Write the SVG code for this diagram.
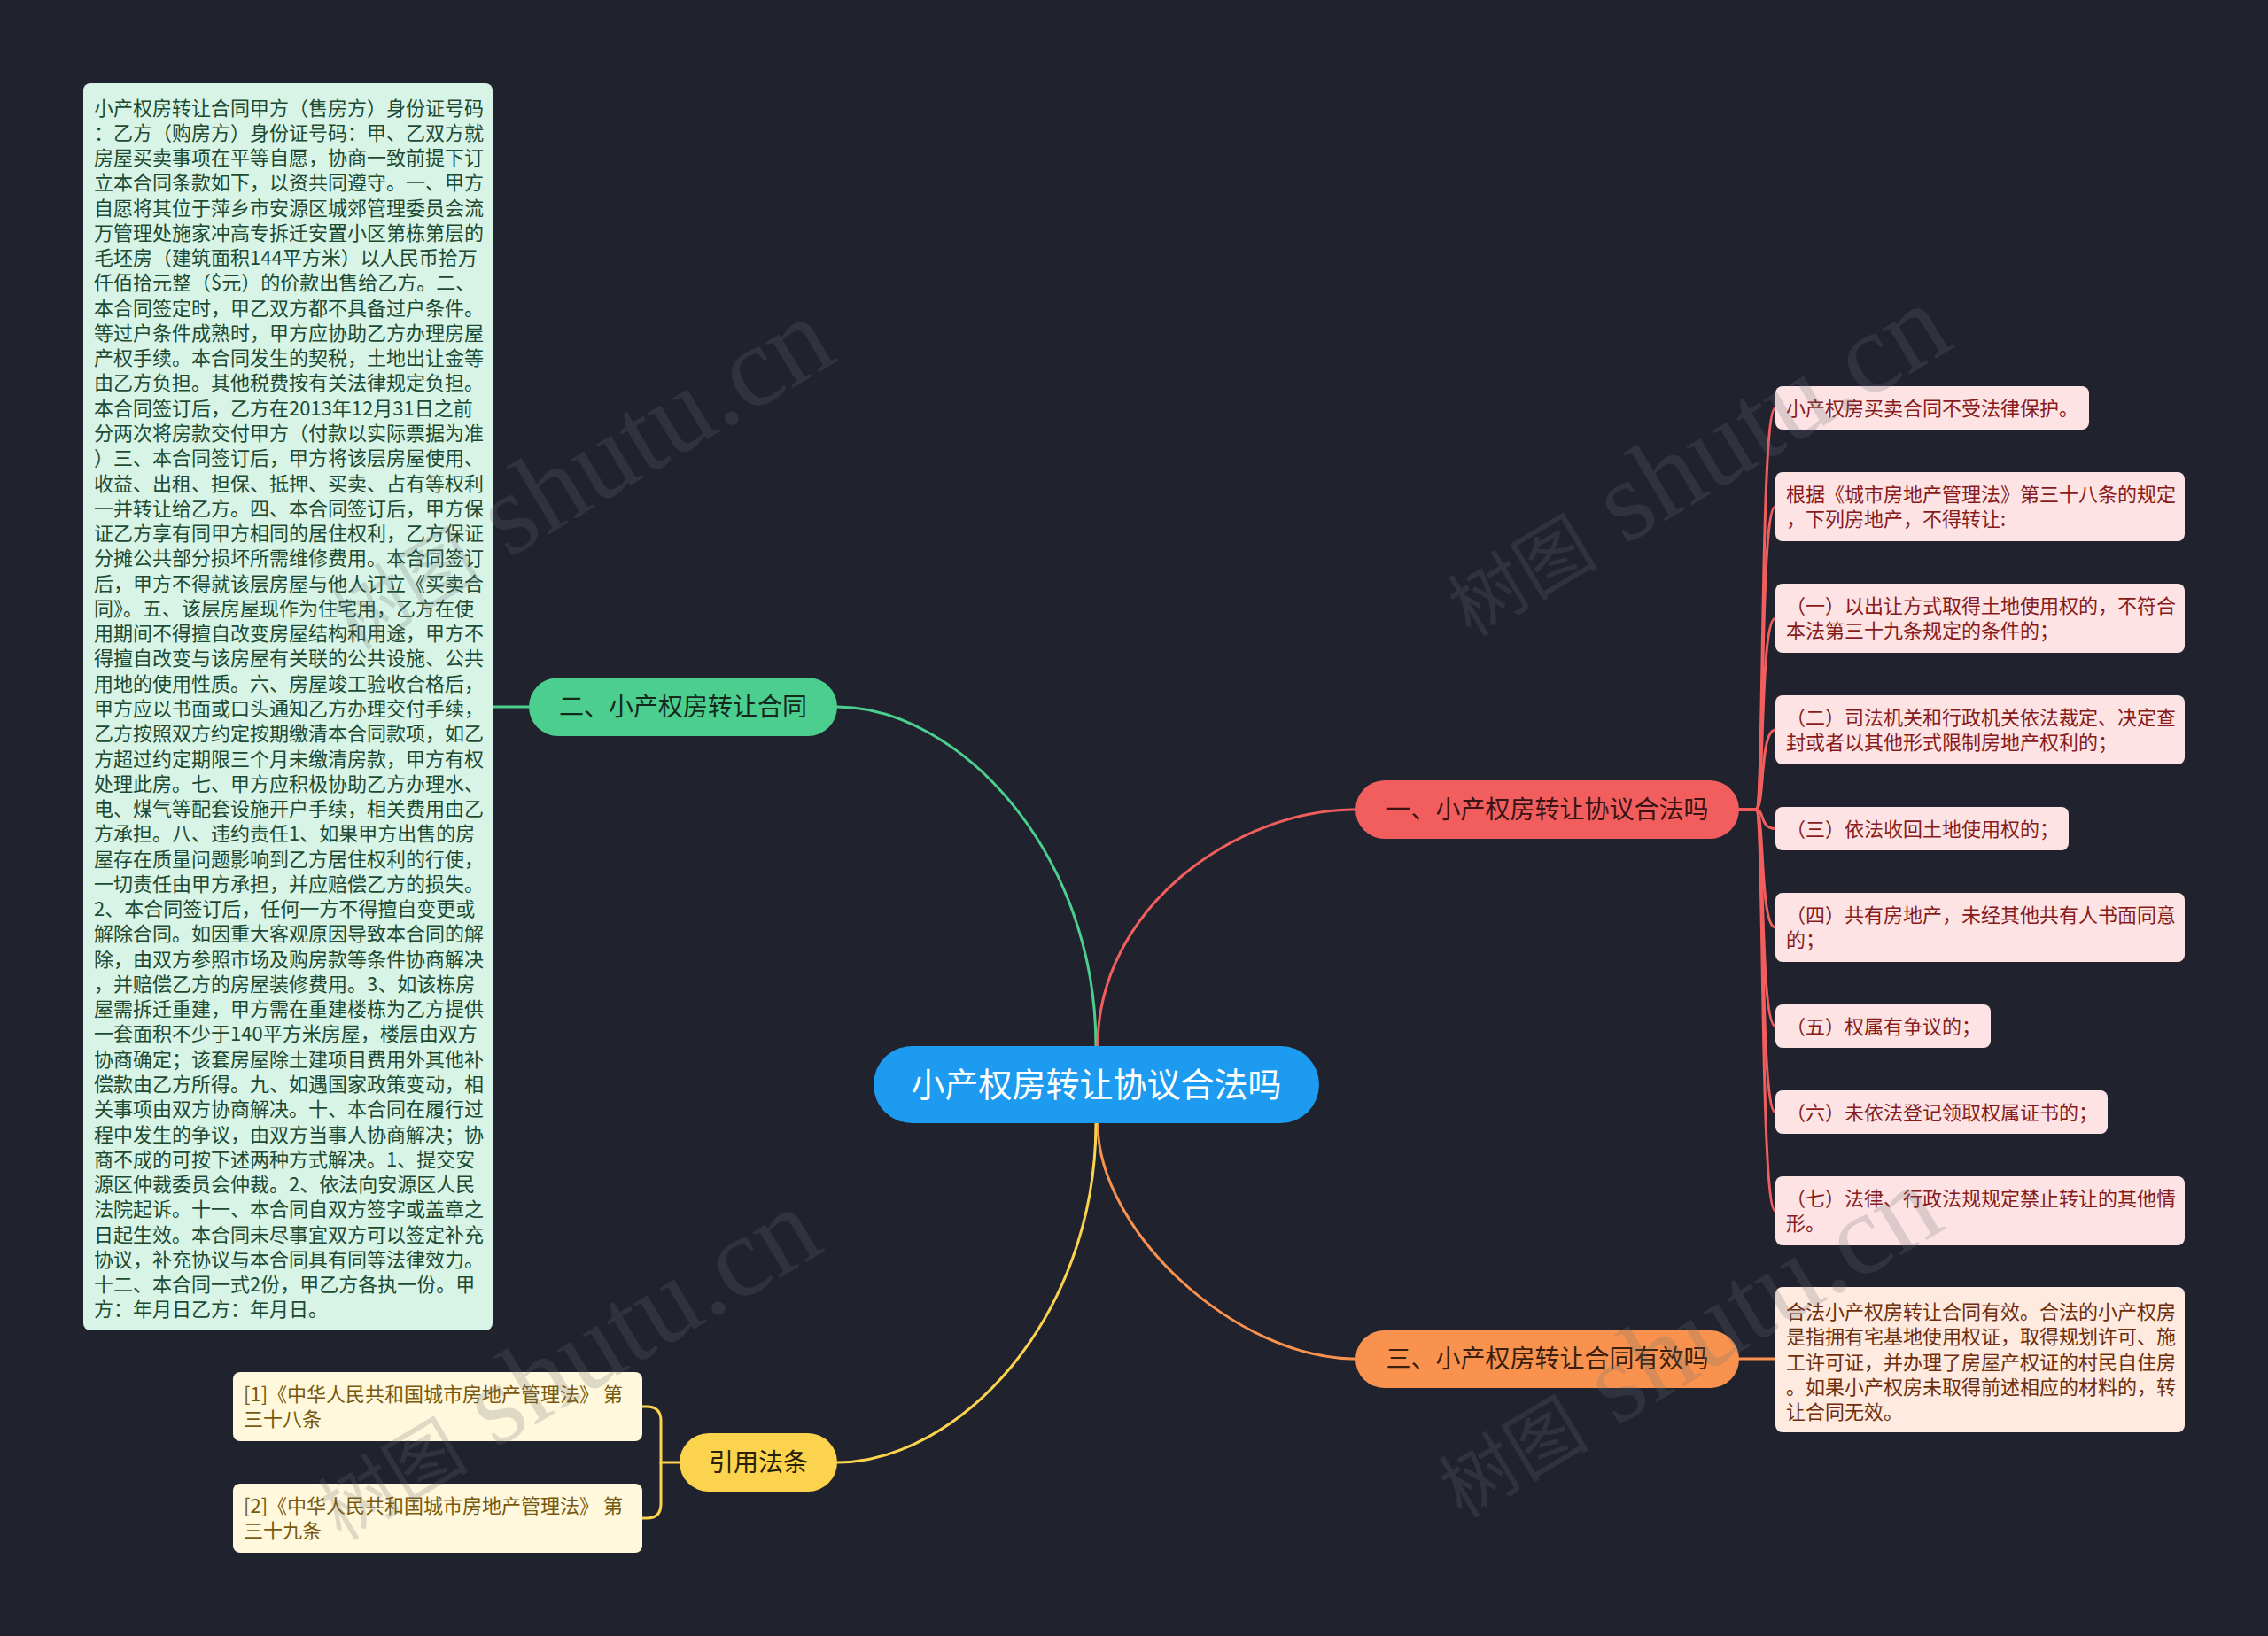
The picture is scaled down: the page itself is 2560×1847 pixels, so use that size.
<svg xmlns="http://www.w3.org/2000/svg" width="2560" height="1847" viewBox="0 0 2560 1847">
<style>
text { font-family: 'Noto Sans CJK SC', 'Noto Sans', sans-serif; }
.t22 { font-size: 22px; }
.main { font-size: 28px; text-anchor: middle; }
.con { fill: none; stroke-width: 3; stroke-linecap: round; }
.cg { stroke: #4ccf8e; } .cr { stroke: #f25e5e; } .co { stroke: #f8924e; } .cy { stroke: #fcd34d; }
.pink rect { fill: #fde3e3; } .pink text { fill: #871b1b; }
.wm { font-family: 'Liberation Serif', 'Noto Sans CJK SC', serif; font-size: 130px; fill: #6b6f78; opacity: 0.22; }
.wm .cjk { font-family: 'Noto Sans CJK SC', sans-serif; font-size: 85px; }
</style>
<rect x="0" y="0" width="2560" height="1847" fill="#20232e"/>

<g id="connectors">
  <path class="con cg" d="M945,798 C1080,798 1237,960 1237,1181"/>
  <path class="con cr" d="M1239,1181 C1239,1025 1395,914 1530,914"/>
  <path class="con co" d="M1239,1268 C1239,1390 1395,1534 1530,1534"/>
  <path class="con cy" d="M1237,1268 C1237,1490 1080,1651 945,1651"/>
  <path class="con cg" d="M556,798 H598"/>
  <path class="con cr" d="M1963,914 H1982 C1992,914 1986,460.5 2004,460.5"/>
  <path class="con cr" d="M1963,914 H1982 C1992,914 1986,572 2004,572"/>
  <path class="con cr" d="M1963,914 H1982 C1992,914 1986,698 2004,698"/>
  <path class="con cr" d="M1963,914 H1982 C1992,914 1986,824 2004,824"/>
  <path class="con cr" d="M1963,914 H1982 C1992,914 1986,935.5 2004,935.5"/>
  <path class="con cr" d="M1963,914 H1982 C1992,914 1986,1047 2004,1047"/>
  <path class="con cr" d="M1963,914 H1982 C1992,914 1986,1158.5 2004,1158.5"/>
  <path class="con cr" d="M1963,914 H1982 C1992,914 1986,1255.5 2004,1255.5"/>
  <path class="con cr" d="M1963,914 H1982 C1992,914 1986,1367 2004,1367"/>
  <path class="con co" d="M1961,1534 H2004"/>
  <path class="con cy" d="M767,1651 H746 V1604 Q746,1588 730,1588 H725"/>
  <path class="con cy" d="M746,1651 V1698 Q746,1714 730,1714 H725"/>
</g>

<g id="center">
  <rect x="986" y="1181" width="503" height="87" rx="43.5" fill="#1c9bf0"/>
  <text x="1237.5" y="1238" font-size="38" text-anchor="middle" fill="#ffffff">小产权房转让协议合法吗</text>
</g>

<g id="b1">
  <rect x="1530" y="881" width="433" height="66" rx="33" fill="#f25e5e"/>
  <text class="main" x="1746.5" y="924" fill="#3a1414">一、小产权房转让协议合法吗</text>
</g>
<g id="b2">
  <rect x="597" y="765" width="348" height="66" rx="33" fill="#4ccf8e"/>
  <text class="main" x="771" y="808" fill="#14281c">二、小产权房转让合同</text>
</g>
<g id="b3">
  <rect x="1530" y="1502" width="433" height="65" rx="32.5" fill="#f8924e"/>
  <text class="main" x="1746.5" y="1544" fill="#3a1e0e">三、小产权房转让合同有效吗</text>
</g>
<g id="b4">
  <rect x="767" y="1618" width="178" height="66" rx="33" fill="#fcd34d"/>
  <text class="main" x="856" y="1661" fill="#2a2208">引用法条</text>
</g>

<g id="contract">
  <rect x="94" y="94" width="462" height="1408" rx="8" fill="#d7f4e6"/>
  <text class="t22" fill="#1d4a32" x="106" y="129.5">
    <tspan x="106" dy="0">小产权房转让合同甲方（售房方）身份证号码</tspan>
    <tspan x="106" dy="28.27">：乙方（购房方）身份证号码：甲、乙双方就</tspan>
    <tspan x="106" dy="28.27">房屋买卖事项在平等自愿，协商一致前提下订</tspan>
    <tspan x="106" dy="28.27">立本合同条款如下，以资共同遵守。一、甲方</tspan>
    <tspan x="106" dy="28.27">自愿将其位于萍乡市安源区城郊管理委员会流</tspan>
    <tspan x="106" dy="28.27">万管理处施家冲高专拆迁安置小区第栋第层的</tspan>
    <tspan x="106" dy="28.27">毛坯房（建筑面积144平方米）以人民币拾万</tspan>
    <tspan x="106" dy="28.27">仟佰拾元整（$元）的价款出售给乙方。二、</tspan>
    <tspan x="106" dy="28.27">本合同签定时，甲乙双方都不具备过户条件。</tspan>
    <tspan x="106" dy="28.27">等过户条件成熟时，甲方应协助乙方办理房屋</tspan>
    <tspan x="106" dy="28.27">产权手续。本合同发生的契税，土地出让金等</tspan>
    <tspan x="106" dy="28.27">由乙方负担。其他税费按有关法律规定负担。</tspan>
    <tspan x="106" dy="28.27">本合同签订后，乙方在2013年12月31日之前</tspan>
    <tspan x="106" dy="28.27">分两次将房款交付甲方（付款以实际票据为准</tspan>
    <tspan x="106" dy="28.27">）三、本合同签订后，甲方将该层房屋使用、</tspan>
    <tspan x="106" dy="28.27">收益、出租、担保、抵押、买卖、占有等权利</tspan>
    <tspan x="106" dy="28.27">一并转让给乙方。四、本合同签订后，甲方保</tspan>
    <tspan x="106" dy="28.27">证乙方享有同甲方相同的居住权利，乙方保证</tspan>
    <tspan x="106" dy="28.27">分摊公共部分损坏所需维修费用。本合同签订</tspan>
    <tspan x="106" dy="28.27">后，甲方不得就该层房屋与他人订立《买卖合</tspan>
    <tspan x="106" dy="28.27">同》。五、该层房屋现作为住宅用，乙方在使</tspan>
    <tspan x="106" dy="28.27">用期间不得擅自改变房屋结构和用途，甲方不</tspan>
    <tspan x="106" dy="28.27">得擅自改变与该房屋有关联的公共设施、公共</tspan>
    <tspan x="106" dy="28.27">用地的使用性质。六、房屋竣工验收合格后，</tspan>
    <tspan x="106" dy="28.27">甲方应以书面或口头通知乙方办理交付手续，</tspan>
    <tspan x="106" dy="28.27">乙方按照双方约定按期缴清本合同款项，如乙</tspan>
    <tspan x="106" dy="28.27">方超过约定期限三个月未缴清房款，甲方有权</tspan>
    <tspan x="106" dy="28.27">处理此房。七、甲方应积极协助乙方办理水、</tspan>
    <tspan x="106" dy="28.27">电、煤气等配套设施开户手续，相关费用由乙</tspan>
    <tspan x="106" dy="28.27">方承担。八、违约责任1、如果甲方出售的房</tspan>
    <tspan x="106" dy="28.27">屋存在质量问题影响到乙方居住权利的行使，</tspan>
    <tspan x="106" dy="28.27">一切责任由甲方承担，并应赔偿乙方的损失。</tspan>
    <tspan x="106" dy="28.27">2、本合同签订后，任何一方不得擅自变更或</tspan>
    <tspan x="106" dy="28.27">解除合同。如因重大客观原因导致本合同的解</tspan>
    <tspan x="106" dy="28.27">除，由双方参照市场及购房款等条件协商解决</tspan>
    <tspan x="106" dy="28.27">，并赔偿乙方的房屋装修费用。3、如该栋房</tspan>
    <tspan x="106" dy="28.27">屋需拆迁重建，甲方需在重建楼栋为乙方提供</tspan>
    <tspan x="106" dy="28.27">一套面积不少于140平方米房屋，楼层由双方</tspan>
    <tspan x="106" dy="28.27">协商确定；该套房屋除土建项目费用外其他补</tspan>
    <tspan x="106" dy="28.27">偿款由乙方所得。九、如遇国家政策变动，相</tspan>
    <tspan x="106" dy="28.27">关事项由双方协商解决。十、本合同在履行过</tspan>
    <tspan x="106" dy="28.27">程中发生的争议，由双方当事人协商解决；协</tspan>
    <tspan x="106" dy="28.27">商不成的可按下述两种方式解决。1、提交安</tspan>
    <tspan x="106" dy="28.27">源区仲裁委员会仲裁。2、依法向安源区人民</tspan>
    <tspan x="106" dy="28.27">法院起诉。十一、本合同自双方签字或盖章之</tspan>
    <tspan x="106" dy="28.27">日起生效。本合同未尽事宜双方可以签定补充</tspan>
    <tspan x="106" dy="28.27">协议，补充协议与本合同具有同等法律效力。</tspan>
    <tspan x="106" dy="28.27">十二、本合同一式2份，甲乙方各执一份。甲</tspan>
    <tspan x="106" dy="28.27">方：年月日乙方：年月日。</tspan>
  </text>
</g>

<g id="n1" class="pink">
  <rect x="2004" y="436" width="354" height="49" rx="8"/>
  <text class="t22" x="2016" y="469">小产权房买卖合同不受法律保护。</text>
</g>
<g id="n2" class="pink">
  <rect x="2004" y="533" width="462" height="78" rx="8"/>
  <text class="t22" x="2016" y="566">根据《城市房地产管理法》第三十八条的规定<tspan x="2016" dy="28.27">，下列房地产，不得转让:</tspan></text>
</g>
<g id="n3" class="pink">
  <rect x="2004" y="659" width="462" height="78" rx="8"/>
  <text class="t22" x="2016" y="692">（一）以出让方式取得土地使用权的，不符合<tspan x="2016" dy="28.27">本法第三十九条规定的条件的；</tspan></text>
</g>
<g id="n4" class="pink">
  <rect x="2004" y="785" width="462" height="78" rx="8"/>
  <text class="t22" x="2016" y="818">（二）司法机关和行政机关依法裁定、决定查<tspan x="2016" dy="28.27">封或者以其他形式限制房地产权利的；</tspan></text>
</g>
<g id="n5" class="pink">
  <rect x="2004" y="911" width="331" height="49" rx="8"/>
  <text class="t22" x="2016" y="944">（三）依法收回土地使用权的；</text>
</g>
<g id="n6" class="pink">
  <rect x="2004" y="1008" width="462" height="78" rx="8"/>
  <text class="t22" x="2016" y="1041">（四）共有房地产，未经其他共有人书面同意<tspan x="2016" dy="28.27">的；</tspan></text>
</g>
<g id="n7" class="pink">
  <rect x="2004" y="1134" width="243" height="49" rx="8"/>
  <text class="t22" x="2016" y="1167">（五）权属有争议的；</text>
</g>
<g id="n8" class="pink">
  <rect x="2004" y="1231" width="375" height="49" rx="8"/>
  <text class="t22" x="2016" y="1264">（六）未依法登记领取权属证书的；</text>
</g>
<g id="n9" class="pink">
  <rect x="2004" y="1328" width="462" height="78" rx="8"/>
  <text class="t22" x="2016" y="1361">（七）法律、行政法规规定禁止转让的其他情<tspan x="2016" dy="28.27">形。</tspan></text>
</g>

<g id="n10">
  <rect x="2004" y="1453" width="462" height="164" rx="8" fill="#feeadf"/>
  <text class="t22" fill="#6e2e0c" x="2016" y="1489">合法小产权房转让合同有效。合法的小产权房<tspan x="2016" dy="28.27">是指拥有宅基地使用权证，取得规划许可、施</tspan><tspan x="2016" dy="28.27">工许可证，并办理了房屋产权证的村民自住房</tspan><tspan x="2016" dy="28.27">。如果小产权房未取得前述相应的材料的，转</tspan><tspan x="2016" dy="28.27">让合同无效。</tspan></text>
</g>

<g id="ref1">
  <rect x="263" y="1549" width="462" height="78" rx="8" fill="#fff8dc"/>
  <text class="t22" fill="#77580e" x="275" y="1582">[1]《中华人民共和国城市房地产管理法》 第<tspan x="275" dy="28.27">三十八条</tspan></text>
</g>
<g id="ref2">
  <rect x="263" y="1675" width="462" height="78" rx="8" fill="#fff8dc"/>
  <text class="t22" fill="#77580e" x="275" y="1708">[2]《中华人民共和国城市房地产管理法》 第<tspan x="275" dy="28.27">三十九条</tspan></text>
</g>

<g id="watermarks">
  <text class="wm" transform="translate(400,735) rotate(-31)"><tspan class="cjk">树图</tspan> shutu.cn</text>
  <text class="wm" transform="translate(1660,720) rotate(-31)"><tspan class="cjk">树图</tspan> shutu.cn</text>
  <text class="wm" transform="translate(385,1740) rotate(-31)"><tspan class="cjk">树图</tspan> shutu.cn</text>
  <text class="wm" transform="translate(1650,1715) rotate(-31)"><tspan class="cjk">树图</tspan> shutu.cn</text>
</g>
</svg>
